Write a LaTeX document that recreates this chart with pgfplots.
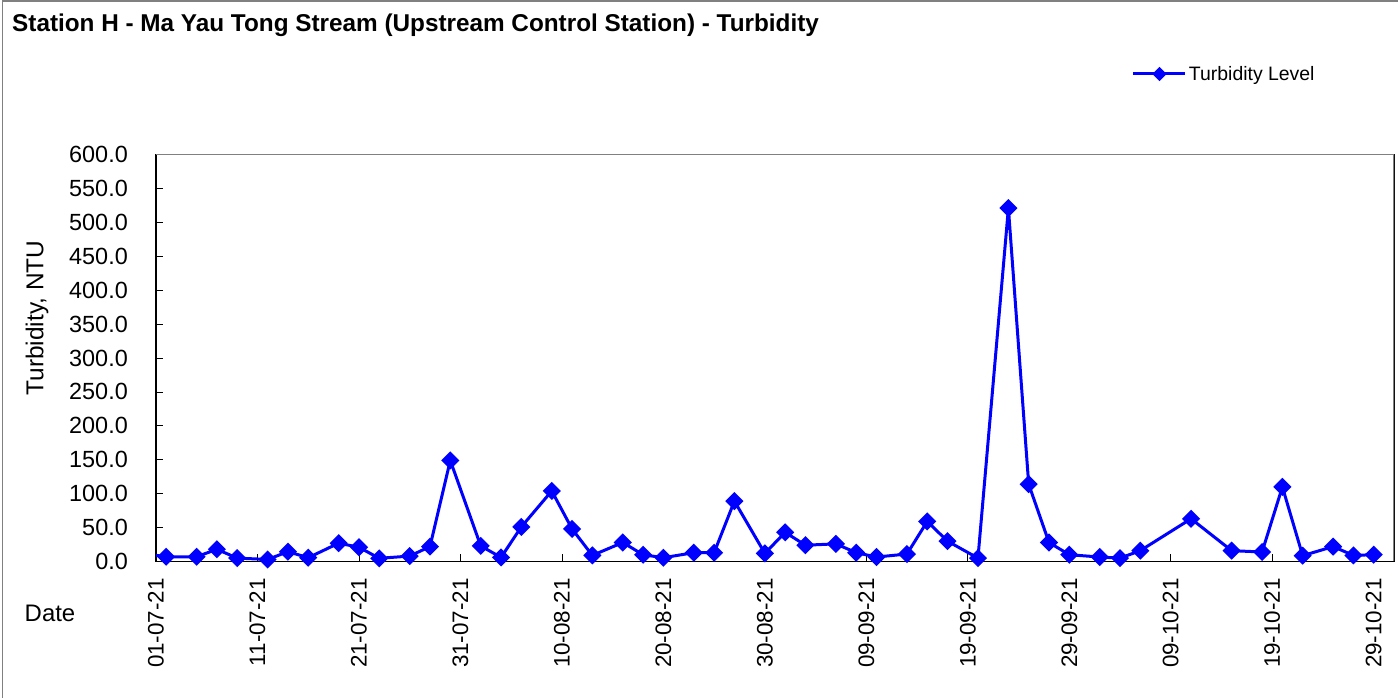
\documentclass[border=0pt]{standalone}
\usepackage{fontspec}
\setmainfont{Liberation Sans}
\usepackage{pgfplots}
\pgfplotsset{compat=1.18}
\definecolor{serblue}{RGB}{0,0,255}
\definecolor{bordergray}{RGB}{128,128,128}
\begin{document}
\begin{tikzpicture}[x=1bp,y=1bp]
\useasboundingbox (0bp,0bp) rectangle (1398bp,698bp);
\draw[bordergray, line width=1.2bp] (2.5bp,0bp) -- (2.5bp,697bp) -- (1398bp,697bp);
\node[anchor=west, inner sep=0pt, font=\fontsize{24.4}{28}\selectfont\bfseries] at (12bp,673bp) {Station H - Ma Yau Tong Stream (Upstream Control Station) - Turbidity};
\node[inner sep=0pt, font=\fontsize{24}{28}\selectfont] at (50bp,85bp) {Date};
\node[inner sep=0pt, rotate=90, font=\fontsize{24.5}{28}\selectfont] at (37bp,380bp) {Turbidity, NTU};
\begin{axis}[
  at={(156bp,136.5bp)}, anchor=origin, scale only axis,
  width=1238bp, height=407bp,
  xmin=0, xmax=122, ymin=0, ymax=600,
  axis line style={black, line width=1.6bp},
  tick align=inside, major tick length=7bp,
  tick style={black, line width=0.8bp},
  xtick pos=lower, ytick pos=left,
  xtick={0,10,...,120},
  xticklabels={01-07-21,11-07-21,21-07-21,31-07-21,10-08-21,20-08-21,30-08-21,09-09-21,19-09-21,29-09-21,09-10-21,19-10-21,29-10-21},
  xticklabel style={yshift=-16.5bp, rotate=90, anchor=east, inner sep=0pt, font=\fontsize{22.5}{26}\selectfont},
  ytick={0,50,...,600},
  yticklabel style={anchor=east, inner sep=0pt, xshift=-28bp, font=\fontsize{23.5}{27}\selectfont,
    /pgf/number format/.cd, fixed, fixed zerofill, precision=1, assume math mode=true},
  scaled y ticks=false,
  legend style={at={(0.7882,1.1978)}, anchor=west, draw=none, fill=none, inner sep=0pt,
    font=\fontsize{19.5}{22}\selectfont},
  legend image code/.code={\draw[mark repeat=2, mark phase=2, #1, mark size=3.6bp] plot coordinates {(-3bp,0bp) (23bp,0bp) (49bp,0bp)};},
]
\addplot[serblue, line width=3bp, mark=square*, mark size=4.9bp, mark options={rotate=45, solid, fill=serblue}] coordinates {
(-2,13.3) (1,7) (4,7) (6,18) (8,5) (11,3) (13,14.5) (15,5.6) (18,27) (20,21)
(22,4.7) (25,8) (27,22) (29,149) (32,23) (34,6) (36,51) (39,104) (41,48) (43,9)
(46,28) (48,10) (50,5.6) (53,13) (55,13) (57,89) (60,12) (62,43) (64,24) (67,26)
(69,13) (71,6.6) (74,11) (76,59) (78,30) (81,5) (84,521) (86,114) (88,28) (90,10)
(93,6.6) (95,5) (97,16) (102,63) (106,16) (109,14) (111,110) (113,8.6) (116,22) (118,9)
(120,10)
};
\addlegendentry{Turbidity Level}
\draw[bordergray, line width=1.6bp] (rel axis cs:0,1) -- (rel axis cs:1,1) -- (rel axis cs:1,0);
\end{axis}
\end{tikzpicture}
\end{document}
